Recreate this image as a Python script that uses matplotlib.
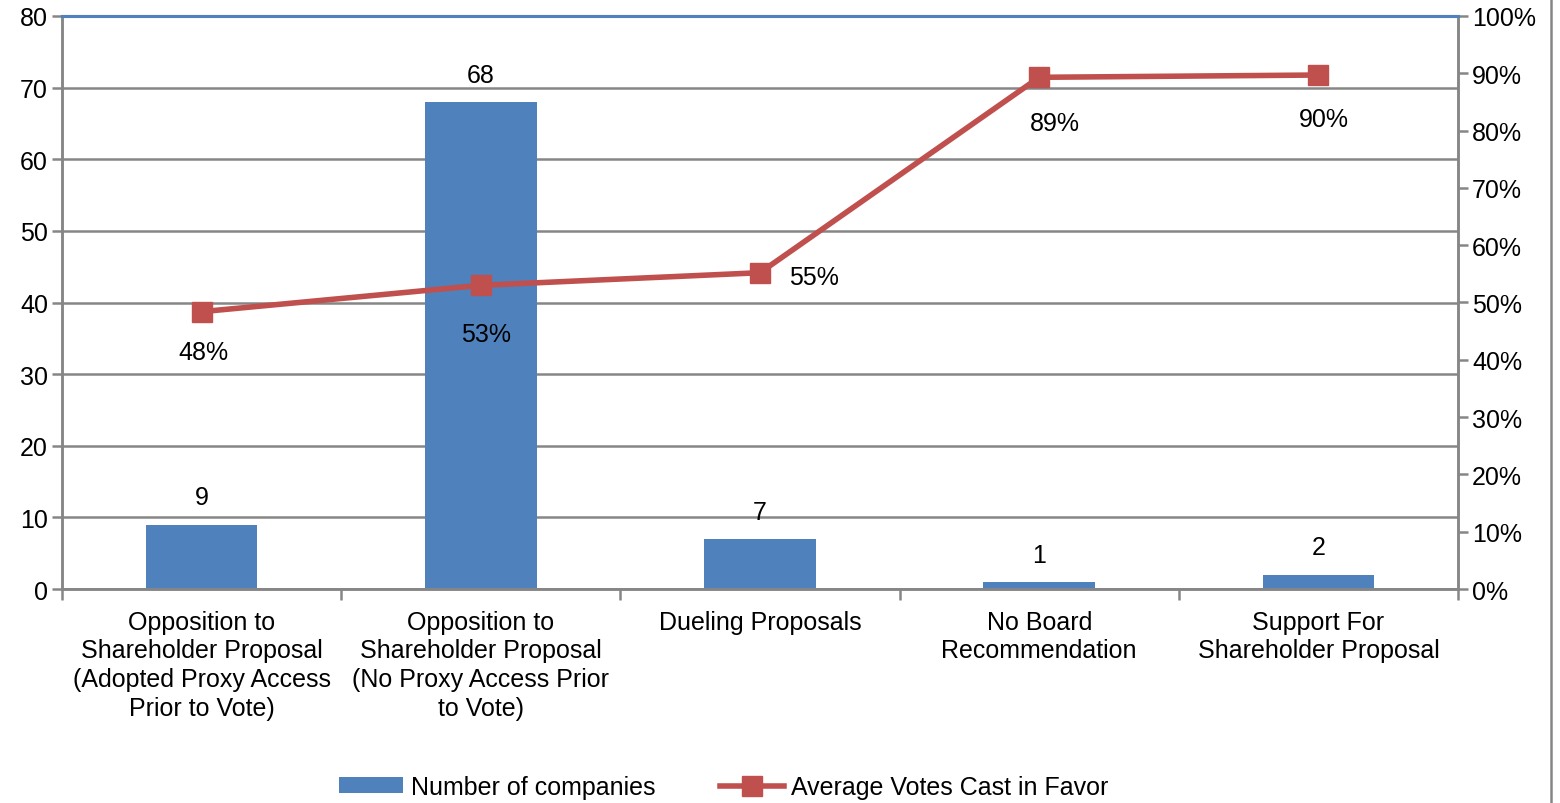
import matplotlib
matplotlib.use("Agg")
import matplotlib.pyplot as plt
from matplotlib.patches import Patch
from matplotlib.lines import Line2D
from matplotlib.ticker import FuncFormatter, MultipleLocator

plt.rcParams["font.family"] = ["Liberation Sans", "DejaVu Sans"]

categories = [
    "Opposition to\nShareholder Proposal\n(Adopted Proxy Access\nPrior to Vote)",
    "Opposition to\nShareholder Proposal\n(No Proxy Access Prior\nto Vote)",
    "Dueling Proposals",
    "No Board\nRecommendation",
    "Support For\nShareholder Proposal",
]
companies = [9, 68, 7, 1, 2]
avg_votes = [0.484, 0.53, 0.552, 0.893, 0.897]

bar_color = "#4F81BD"
line_color = "#C0504D"
axis_grey = "#868686"
fs = 18

fig = plt.figure(figsize=(15.6, 8.04), dpi=100)
ax = fig.add_axes([62 / 1560, 1 - 590 / 804, (1458 - 62) / 1560, (590 - 17) / 804])
ax2 = ax.twinx()

x = list(range(len(categories)))
bars = ax.bar(x, companies, width=0.4, color=bar_color, zorder=2)
ax.set_xlim(-0.5, len(categories) - 0.5)
ax.set_ylim(0, 80)
ax.yaxis.set_major_locator(MultipleLocator(10))
ax.grid(axis="y", color=axis_grey, linewidth=1.8, zorder=0)
ax.set_axisbelow(True)

# category labels centred between boundary tick marks
ax.set_xticks(x)
ax.set_xticklabels(categories, fontsize=fs, linespacing=1.24)
ax.tick_params(axis="x", length=0, pad=15)
ax.set_xticks([i - 0.5 for i in range(len(categories) + 1)], minor=True)
ax.tick_params(axis="x", which="minor", length=8, width=1.8, color=axis_grey)
ax.tick_params(axis="y", labelsize=fs, length=7, width=1.8, color=axis_grey, pad=3)

for b, v in zip(bars, companies):
    ax.annotate(str(v), (b.get_x() + b.get_width() / 2, v), xytext=(0, 11),
                textcoords="offset points", ha="center", va="bottom", fontsize=fs)

ax2.plot(x, avg_votes, color=line_color, linewidth=4.0, marker="s",
         markersize=14, zorder=3)
ax2.set_ylim(0, 1)
ax2.yaxis.set_major_locator(MultipleLocator(0.1))
ax2.yaxis.set_major_formatter(FuncFormatter(lambda v, p: f"{v:.0%}"))
ax2.tick_params(axis="y", labelsize=fs, length=7, width=1.8, color=axis_grey, pad=3)

label_offsets = [(1, -29), (4, -35), (39, -3), (11, -33), (4, -32)]
for xi, v, off in zip(x, avg_votes, label_offsets):
    ax2.annotate(f"{v:.0%}", (xi, v), xytext=off, textcoords="offset points",
                 ha="center", va="center", fontsize=fs)

for a in (ax, ax2):
    for side in ("left", "right", "bottom"):
        a.spines[side].set_color(axis_grey)
        a.spines[side].set_linewidth(1.8)
    a.spines["top"].set_color(bar_color)
    a.spines["top"].set_linewidth(2.2)

handles = [
    Patch(facecolor=bar_color, edgecolor="none", label="Number of companies"),
    Line2D([], [], color=line_color, linewidth=4.0, marker="s", markersize=14,
           label="Average Votes Cast in Favor"),
]
fig.legend(handles=handles, loc="center", bbox_to_anchor=(724 / 1560, 1 - 788 / 804),
           ncol=2, frameon=False, fontsize=fs, handlelength=2.55, handleheight=0.6,
           handletextpad=0.3, columnspacing=2.6)

fig.add_artist(Line2D([1551 / 1560, 1551 / 1560], [0, 1], transform=fig.transFigure,
                      color=axis_grey, linewidth=1.8))

fig.savefig("out.png", dpi=100)
